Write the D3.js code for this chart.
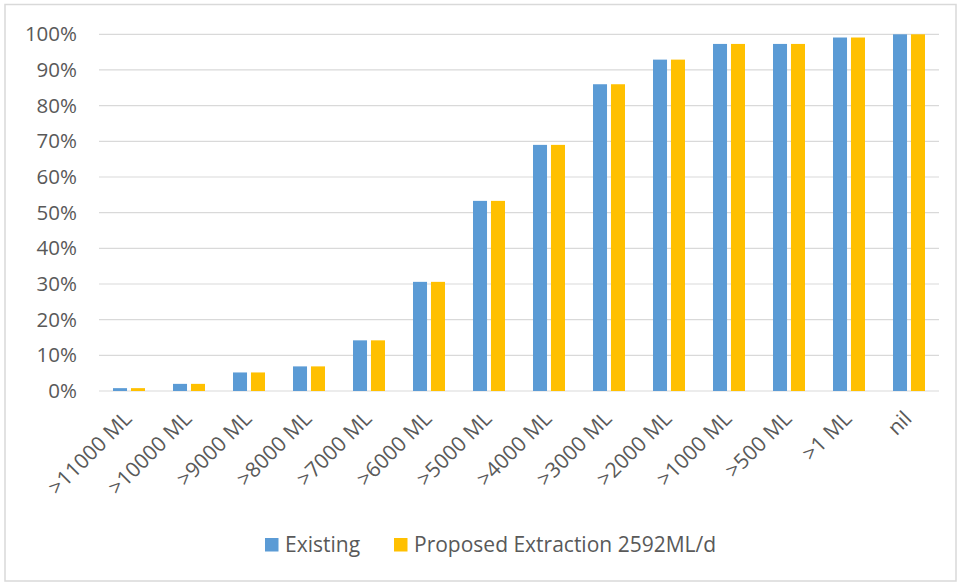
<!DOCTYPE html>
<html>
<head>
<meta charset="utf-8">
<script src="https://cdn.jsdelivr.net/npm/d3@7"></script>
<style>
  html, body { margin: 0; padding: 0; background: #fff; }
  svg text { font-family: "Open Sans", "Liberation Sans", sans-serif; fill: #595959; }
</style>
</head>
<body>
<svg id="chart" width="957" height="583"></svg>
<script>
const categories = [">11000 ML", ">10000 ML", ">9000 ML", ">8000 ML", ">7000 ML", ">6000 ML", ">5000 ML",
  ">4000 ML", ">3000 ML", ">2000 ML", ">1000 ML", ">500 ML", ">1 ML", "nil"];
const existing = [0.008, 0.02, 0.052, 0.069, 0.142, 0.306, 0.533, 0.69, 0.86, 0.929, 0.973, 0.973, 0.991, 1.0];
const proposed = [0.008, 0.02, 0.052, 0.069, 0.142, 0.306, 0.533, 0.69, 0.86, 0.929, 0.973, 0.973, 0.991, 1.0];
const seriesNames = ["Existing", "Proposed Extraction 2592ML/d"];
const seriesColors = ["#5B9BD5", "#FFC000"];
const yTicks = [0, 0.1, 0.2, 0.3, 0.4, 0.5, 0.6, 0.7, 0.8, 0.9, 1.0];

const svg = d3.select("#chart");
const FONT = '"Open Sans", "Liberation Sans", sans-serif';

// chart border
svg.append("rect").attr("x", 5).attr("y", 4.5).attr("width", 951).attr("height", 576.5)
  .attr("fill", "#fff").attr("stroke", "#D9D9D9").attr("stroke-width", 1.5);

const plot = { left: 99, right: 939, top: 34.3, bottom: 391 };

const x0 = d3.scaleBand().domain(categories).range([plot.left, plot.right]).paddingInner(0).paddingOuter(0);
const x1 = d3.scaleBand().domain([0, 1]).range([0, 32]).paddingInner(0.22);
const y = d3.scaleLinear().domain([0, 1]).range([plot.bottom, plot.top]);

// gridlines
svg.append("g").selectAll("line").data(yTicks).join("line")
  .attr("x1", plot.left).attr("x2", plot.right)
  .attr("y1", d => y(d)).attr("y2", d => y(d))
  .attr("stroke", "#D9D9D9").attr("stroke-width", 1.2);

// y axis labels
const yAxis = d3.axisLeft(y).tickValues(yTicks).tickFormat(d3.format(".0%")).tickSize(0).tickPadding(0);
const yg = svg.append("g").attr("transform", `translate(77,0)`).call(yAxis);
yg.select(".domain").remove();
yg.selectAll("text").attr("font-size", 20.5).attr("fill", "#595959").style("font-family", FONT);

// bars
const data = categories.map((c, i) => ({ c, vals: [existing[i], proposed[i]] }));
const groups = svg.append("g").selectAll("g").data(data).join("g")
  .attr("transform", d => `translate(${x0(d.c) + x0.bandwidth() / 2 - 16},0)`);
groups.selectAll("rect").data(d => d.vals.map((v, k) => ({ v, k }))).join("rect")
  .attr("x", d => x1(d.k))
  .attr("width", x1.bandwidth())
  .attr("y", d => y(d.v))
  .attr("height", d => y(0) - y(d.v))
  .attr("fill", d => seriesColors[d.k]);

// x axis labels
const xAxis = d3.axisBottom(x0).tickSize(0).tickPadding(0);
const xg = svg.append("g").attr("transform", `translate(0,${plot.bottom})`).call(xAxis);
xg.select(".domain").remove();
xg.selectAll(".tick text")
  .attr("font-size", 21).attr("fill", "#595959").style("font-family", FONT)
  .attr("text-anchor", "end")
  .attr("y", 0).attr("dy", 0)
  .attr("transform", "translate(4,29) rotate(-45)");

// legend
const legend = svg.append("g");
const legendItems = [
  { name: seriesNames[0], color: seriesColors[0], x: 265 },
  { name: seriesNames[1], color: seriesColors[1], x: 394 }
];
legendItems.forEach(it => {
  legend.append("rect").attr("x", it.x).attr("y", 538).attr("width", 13.5).attr("height", 13.5).attr("fill", it.color);
  legend.append("text").attr("x", it.x + 20).attr("y", 545).attr("dy", "0.35em")
    .attr("font-size", 21).style("font-family", FONT).text(it.name);
});
</script>
</body>
</html>
